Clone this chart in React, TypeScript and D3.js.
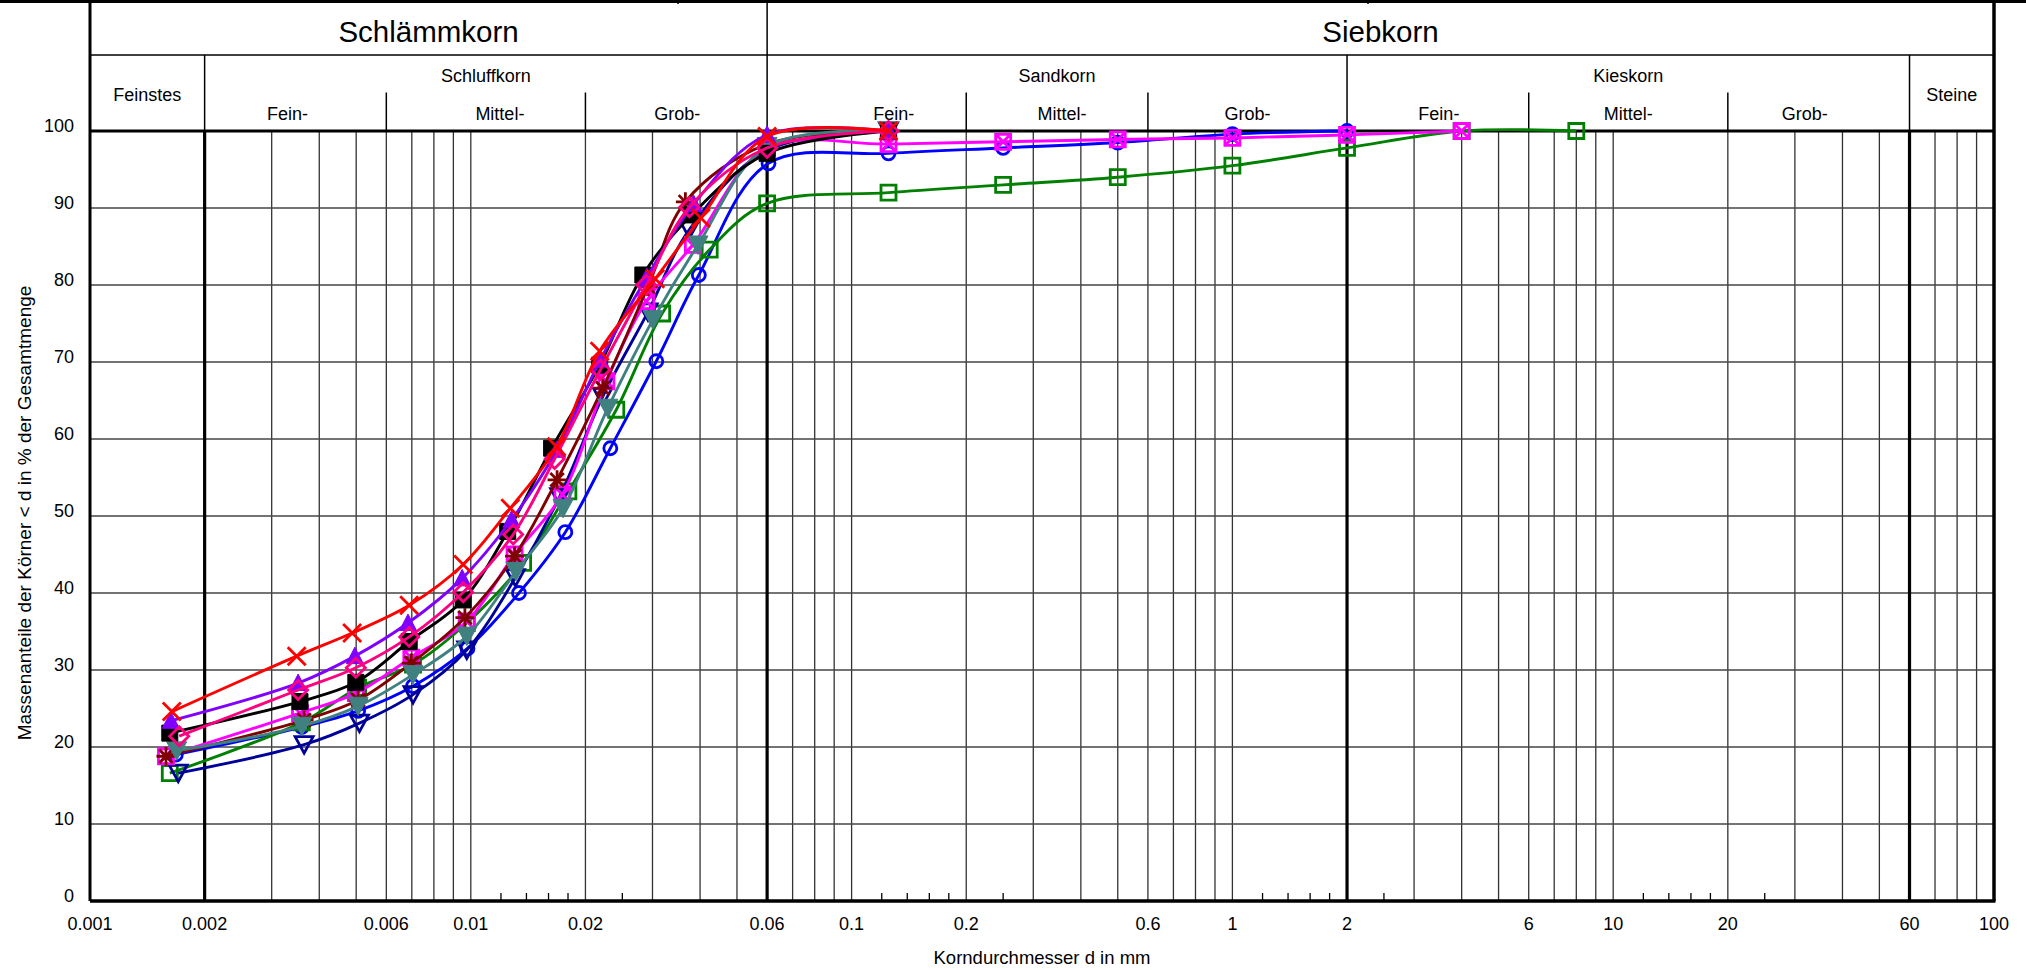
import React from "react";
import * as d3 from "d3";

// Kornverteilung (Sieb-/Schlämmanalyse), 10 Proben

const X_TICKS = [0.001, 0.002, 0.006, 0.01, 0.02, 0.06, 0.1, 0.2, 0.6, 1, 2, 6, 10, 20, 60, 100];
const X_TICK_LABELS = ["0.001", "0.002", "0.006", "0.01", "0.02", "0.06", "0.1", "0.2", "0.6", "1", "2", "6", "10", "20", "60", "100"];
const Y_TICKS = [0, 10, 20, 30, 40, 50, 60, 70, 80, 90, 100];
const THICK_LINES = [0.002, 0.06, 2, 60];
const SUB_LINES = [0.006, 0.02, 0.2, 0.6, 6, 20];
const MINOR_STEPS = [1.2, 1.4, 1.6, 1.8, 2.5];
const MINOR_DECADES = [0.01, 0.1, 1, 10];

const MAIN_BANDS = [
  { label: "Schlämmkorn", from: 0.001, to: 0.06 },
  { label: "Siebkorn", from: 0.06, to: 100 },
];
const SINGLE_GROUPS = [
  { label: "Feinstes", from: 0.001, to: 0.002 },
  { label: "Steine", from: 60, to: 100 },
];
const GROUPS = [
  { label: "Schluffkorn", from: 0.002, to: 0.06 },
  { label: "Sandkorn", from: 0.06, to: 2 },
  { label: "Kieskorn", from: 2, to: 60 },
];
const SUBGROUPS = [
  { label: "Fein-", from: 0.002, to: 0.006 },
  { label: "Mittel-", from: 0.006, to: 0.02 },
  { label: "Grob-", from: 0.02, to: 0.06 },
  { label: "Fein-", from: 0.06, to: 0.2 },
  { label: "Mittel-", from: 0.2, to: 0.6 },
  { label: "Grob-", from: 0.6, to: 2 },
  { label: "Fein-", from: 2, to: 6 },
  { label: "Mittel-", from: 6, to: 20 },
  { label: "Grob-", from: 20, to: 60 },
];

// series: grain diameter d [mm] and passing [%]
const redD = [0.00164, 0.00349, 0.00488, 0.00689, 0.00955, 0.0127, 0.0168, 0.0218, 0.0305, 0.0402, 0.06, 0.125];
const redV = [24.6, 31.8, 34.8, 38.4, 43.7, 51.0, 59.0, 71.4, 80.8, 88.7, 99.3, 100];

const purpleD = [0.00163, 0.00352, 0.00496, 0.00684, 0.00949, 0.01279, 0.01685, 0.0219, 0.029, 0.0385, 0.06, 0.125];
const purpleV = [23.4, 28.3, 31.8, 36.1, 41.9, 49.5, 58.6, 70.3, 81.0, 90.5, 99.5, 100];

const blackD = [0.00162, 0.00356, 0.00499, 0.00689, 0.00955, 0.0125, 0.0163, 0.0218, 0.0283, 0.038, 0.06, 0.125];
const blackV = [21.8, 25.9, 28.4, 33.7, 39.1, 48.0, 58.8, 69.6, 81.3, 89.1, 97.1, 100];

const pinkD = [0.001715, 0.00352, 0.00499, 0.00689, 0.00955, 0.01292, 0.0166, 0.0219, 0.0289, 0.0375, 0.06, 0.125];
const pinkV = [21.4, 27.4, 30.3, 34.3, 40.1, 47.6, 57.4, 69.0, 80.0, 90.1, 97.8, 100];

const magentaD = [0.001583, 0.00356, 0.00499, 0.00698, 0.00976, 0.01303, 0.0174, 0.0227, 0.0289, 0.0383, 0.06, 0.125, 0.25, 0.5, 1, 2, 4];
const magentaV = [18.8, 24.4, 27.0, 31.6, 36.3, 45.0, 52.8, 67.5, 77.9, 85.2, 97.8, 98.3, 98.6, 98.9, 99.1, 99.5, 100];

const maroonD = [0.001583, 0.00365, 0.00506, 0.00698, 0.00965, 0.01303, 0.01685, 0.0222, 0.0292, 0.0366, 0.06, 0.125];
const maroonV = [18.8, 23.5, 26.1, 30.9, 36.8, 44.8, 54.7, 66.6, 79.8, 90.8, 98.3, 100];

const blueD = [0.00168, 0.0036, 0.00506, 0.00705, 0.0098, 0.01338, 0.01771, 0.02325, 0.0307, 0.0397, 0.0605, 0.125, 0.25, 0.5, 1, 2];
const blueV = [19.0, 22.6, 24.7, 27.9, 32.8, 40.0, 47.9, 58.8, 70.1, 81.3, 95.8, 97.1, 97.8, 98.5, 99.6, 100];

const navyD = [0.001705, 0.00365, 0.0051, 0.00705, 0.00976, 0.0131, 0.01711, 0.0222, 0.0292, 0.0375, 0.06, 0.125];
const navyV = [16.6, 20.3, 23.1, 26.8, 32.6, 42.0, 52.5, 65.5, 76.5, 87.2, 97.5, 100];

const greenD = [0.00162, 0.0036, 0.00506, 0.00705, 0.00976, 0.01372, 0.01804, 0.0241, 0.0318, 0.0424, 0.06, 0.125, 0.25, 0.5, 1, 2, 4, 8];
const greenV = [16.6, 23.2, 27.7, 30.7, 36.1, 43.9, 53.2, 63.8, 76.3, 84.6, 90.6, 92.0, 93.0, 94.0, 95.5, 97.8, 100, 100];

const tealD = [0.001689, 0.0036, 0.00506, 0.00705, 0.00976, 0.01314, 0.01747, 0.0229, 0.0301, 0.0395, 0.06, 0.125];
const tealV = [19.5, 22.7, 25.3, 29.4, 34.4, 42.8, 51.0, 64.0, 75.5, 85.2, 98.0, 100];

type Marker = "cross" | "triUp" | "square" | "diamond" | "boxX" | "asterisk" | "circle" | "triDown" | "openSquare" | "triDownFill";

const SERIES: { d: number[]; v: number[]; color: string; marker: Marker }[] = [
  { d: blueD, v: blueV, color: "#0000ff", marker: "circle" },
  { d: greenD, v: greenV, color: "#008000", marker: "openSquare" },
  { d: navyD, v: navyV, color: "#000099", marker: "triDown" },
  { d: magentaD, v: magentaV, color: "#ff00ff", marker: "boxX" },
  { d: maroonD, v: maroonV, color: "#800000", marker: "asterisk" },
  { d: tealD, v: tealV, color: "#408080", marker: "triDownFill" },
  { d: blackD, v: blackV, color: "#000000", marker: "square" },
  { d: purpleD, v: purpleV, color: "#8000ff", marker: "triUp" },
  { d: pinkD, v: pinkV, color: "#ff0080", marker: "diamond" },
  { d: redD, v: redV, color: "#ff0000", marker: "cross" },
];

// layout
const W = 2026;
const H = 970;
const PL = 90;
const PR = 1994;
const PT = 131;
const PB = 901;
const SUB_NUDGE = [-8, 14, 1, 27, 5, 0, 1, 0, -14];
const FONT = "'Liberation Sans', Arial, Helvetica, sans-serif";

const x = d3.scaleLog().domain([0.001, 100]).range([PL, PR]);
const y = d3.scaleLinear().domain([0, 100]).range([PB, PT]);
const mid = (a: number, b: number) => (x(a) + x(b)) / 2;

function markerPath(m: Marker): string {
  switch (m) {
    case "cross":
      return "M-9,-9L9,9M-9,9L9,-9";
    case "triUp":
      return "M0,-9L8.5,7.5L-8.5,7.5Z";
    case "square":
      return "M-8,-8H8V8H-8Z";
    case "diamond":
      return "M0,-9.5L9.5,0L0,9.5L-9.5,0Z";
    case "boxX":
      return "M-7.5,-7.5H7.5V7.5H-7.5ZM-7.5,-7.5L7.5,7.5M7.5,-7.5L-7.5,7.5";
    case "asterisk": {
      const r = 9.5;
      return d3
        .range(4)
        .map((i) => {
          const a = (i * Math.PI) / 4;
          const c = Math.cos(a) * r;
          const s = Math.sin(a) * r;
          return `M${-c},${-s}L${c},${s}`;
        })
        .join("");
    }
    case "circle":
      return "M6.5,0A6.5,6.5 0 1,1 -6.5,0A6.5,6.5 0 1,1 6.5,0Z";
    case "triDown":
      return "M-9,-8L9,-8L0,8.5Z";
    case "openSquare":
      return "M-7.5,-7.5H7.5V7.5H-7.5Z";
    case "triDownFill":
      return "M-10,-9L10,-9L0,9.5Z";
  }
}

const FILLED: Marker[] = ["triUp", "square", "triDownFill"];

export default function App() {
  const line = d3
    .line<[number, number]>()
    .x((p) => x(p[0]))
    .y((p) => y(p[1]))
    .curve(d3.curveCatmullRom.alpha(0.5));

  const gridX: number[] = [];
  for (let k = -3; k <= 1; k++) {
    for (let m = 1; m <= 9; m++) gridX.push(+(m * Math.pow(10, k)).toPrecision(3));
  }
  gridX.push(100);

  const minor: number[] = [];
  MINOR_DECADES.forEach((dec) => MINOR_STEPS.forEach((s) => minor.push(s * dec)));

  return (
    <svg
      width={W}
      height={H}
      viewBox={`0 0 ${W} ${H}`}
      style={{ position: "absolute", left: 0, top: 0, background: "#fff" }}
      fontFamily={FONT}
    >
      <rect x={0} y={0} width={W} height={H} fill="#fff" />

      {/* header frame */}
      <line x1={0} x2={W} y1={1.5} y2={1.5} stroke="#000" strokeWidth={3} />
      <line x1={678} x2={678} y1={0} y2={4} stroke="#000" strokeWidth={1.5} />
      <line x1={1368} x2={1368} y1={0} y2={4} stroke="#000" strokeWidth={1.5} />
      <line x1={PL} x2={PR} y1={55} y2={55} stroke="#000" strokeWidth={1.5} />
      <line x1={x(0.06)} x2={x(0.06)} y1={3} y2={PT} stroke="#000" strokeWidth={1.5} />
      {[0.002, 2, 60].map((v) => (
        <line key={"hv" + v} x1={x(v)} x2={x(v)} y1={55} y2={PT} stroke="#000" strokeWidth={1.5} />
      ))}
      {SUB_LINES.map((v) => (
        <line key={"sv" + v} x1={x(v)} x2={x(v)} y1={92.5} y2={PT} stroke="#000" strokeWidth={1.5} />
      ))}

      {MAIN_BANDS.map((b) => (
        <text key={b.label} x={mid(b.from, b.to)} y={41.5} fontSize={29.5} textAnchor="middle">
          {b.label}
        </text>
      ))}
      {SINGLE_GROUPS.map((g) => (
        <text key={g.label} x={mid(g.from, g.to)} y={101} fontSize={18} textAnchor="middle">
          {g.label}
        </text>
      ))}
      {GROUPS.map((g) => (
        <text key={g.label} x={mid(g.from, g.to)} y={82} fontSize={18} textAnchor="middle">
          {g.label}
        </text>
      ))}
      {SUBGROUPS.map((g, i) => (
        <text key={"sg" + i} x={mid(g.from, g.to) + SUB_NUDGE[i]} y={120} fontSize={18} textAnchor="middle">
          {g.label}
        </text>
      ))}

      {/* grid */}
      {gridX.map((v) => (
        <line key={"gx" + v} x1={x(v)} x2={x(v)} y1={PT} y2={PB} stroke="#333" strokeWidth={1.3} />
      ))}
      {Y_TICKS.map((t) => (
        <line key={"gy" + t} x1={PL} x2={PR} y1={y(t)} y2={y(t)} stroke="#444" strokeWidth={1.6} />
      ))}
      {THICK_LINES.map((v) => (
        <line key={"tl" + v} x1={x(v)} x2={x(v)} y1={PT} y2={PB} stroke="#000" strokeWidth={3.2} />
      ))}
      {minor.map((v) => (
        <line key={"mt" + v} x1={x(v)} x2={x(v)} y1={PB - 8} y2={PB} stroke="#000" strokeWidth={1.3} />
      ))}

      {/* borders */}
      <line x1={PL} x2={PR} y1={PT} y2={PT} stroke="#000" strokeWidth={3} />
      <line x1={PL} x2={PR + 1.5} y1={PB} y2={PB} stroke="#000" strokeWidth={3.5} />
      <line x1={PL} x2={PL} y1={3} y2={PB} stroke="#000" strokeWidth={3} />
      <line x1={PR} x2={PR} y1={3} y2={PB} stroke="#000" strokeWidth={3.5} />

      {/* axis labels */}
      {X_TICKS.map((v, i) => (
        <text key={"xl" + v} x={x(v)} y={929.5} fontSize={18} textAnchor="middle">
          {X_TICK_LABELS[i]}
        </text>
      ))}
      {Y_TICKS.map((t) => (
        <text key={"yl" + t} x={74} y={y(t) + 1} fontSize={18} textAnchor="end">
          {t}
        </text>
      ))}
      <text x={(PL + PR) / 2} y={964} fontSize={18.5} textAnchor="middle">
        Korndurchmesser d in mm
      </text>
      <text transform={`translate(31,${(PT + PB) / 2 - 3}) rotate(-90)`} fontSize={19} textAnchor="middle">
        Massenanteile der Körner &lt; d in % der Gesamtmenge
      </text>

      {/* series */}
      {SERIES.map((s, si) => {
        const pts = s.d.map((d, i) => [d, s.v[i]] as [number, number]);
        const filled = FILLED.includes(s.marker);
        return (
          <g key={"s" + si}>
            <path d={line(pts) || ""} fill="none" stroke={s.color} strokeWidth={2.9} />
            {pts.map((p, i) => (
              <path
                key={i}
                transform={`translate(${x(p[0])},${y(p[1])})`}
                d={markerPath(s.marker)}
                fill={filled ? s.color : "none"}
                stroke={s.color}
                strokeWidth={filled ? 1 : 2.8}
              />
            ))}
          </g>
        );
      })}
    </svg>
  );
}
